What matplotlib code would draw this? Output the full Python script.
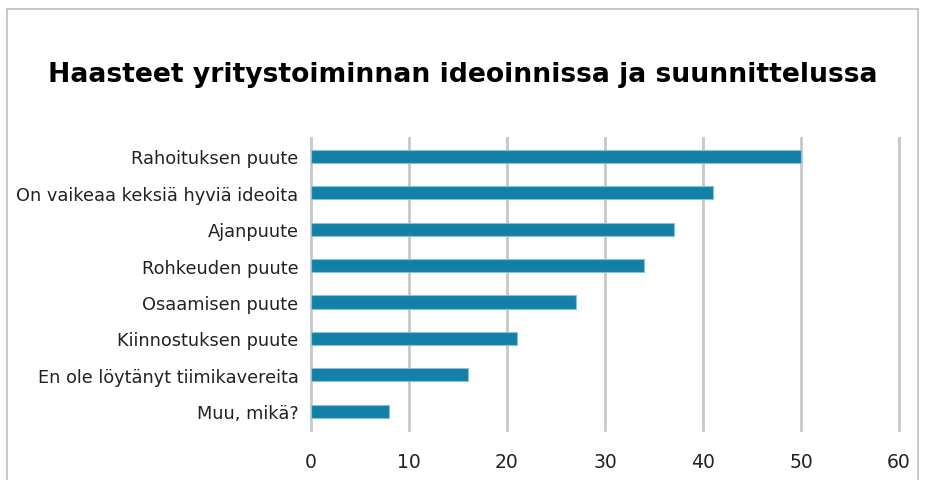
import matplotlib
matplotlib.use("Agg")
import matplotlib.pyplot as plt

categories = ["Rahoituksen puute", "On vaikeaa keksiä hyviä ideoita", "Ajanpuute",
              "Rohkeuden puute", "Osaamisen puute", "Kiinnostuksen puute",
              "En ole löytänyt tiimikavereita", "Muu, mikä?"]
values = [50, 41, 37, 34, 27, 21, 16, 8]
xticks = [0, 10, 20, 30, 40, 50, 60]
title = "Haasteet yritystoiminnan ideoinnissa ja suunnittelussa"

W, H = 927, 481
fig = plt.figure(figsize=(W/100, H/100), dpi=100)

# outer border of chart area
fig.add_artist(plt.Line2D([7.5/W, 7.5/W], [0, 1-10/H], color="#BFBFBF", lw=1.2))
fig.add_artist(plt.Line2D([7.5/W, 918/W], [1-10/H, 1-10/H], color="#BFBFBF", lw=1.2))
fig.add_artist(plt.Line2D([918/W, 918/W], [0, 1-10/H], color="#BFBFBF", lw=1.2))

left, right = 311, 899
top, bottom = 139, 430.5
ax = fig.add_axes([left/W, 1-bottom/H, (right-left)/W, (bottom-top)/H])

y = list(range(len(categories)))
ax.barh(y, values, height=0.36, color="#1380A8", edgecolor="#8CC0D6", linewidth=0.8, zorder=3)
ax.set_ylim(len(categories)-0.5, -0.5)
ax.set_xlim(0, 60)
ax.set_xticks(xticks)
ax.set_xticklabels([str(t) for t in xticks], fontsize=13.5, color="#222222")
ax.set_yticks(y)
ax.set_yticklabels(categories, fontsize=12.8, color="#222222")
ax.tick_params(axis="both", length=0)
ax.tick_params(axis="x", pad=16)
ax.tick_params(axis="y", pad=9)
ax.grid(axis="x", color="#C8C8C8", lw=2, zorder=0)
for gl in ax.get_xgridlines():
    gl.set_clip_on(False)
for s in ax.spines.values():
    s.set_visible(False)

fig.text(463/W, 1-75/H, title, ha="center", va="center", fontsize=19.2,
         fontweight="bold", color="#000000")

fig.savefig("out.png", dpi=100)
